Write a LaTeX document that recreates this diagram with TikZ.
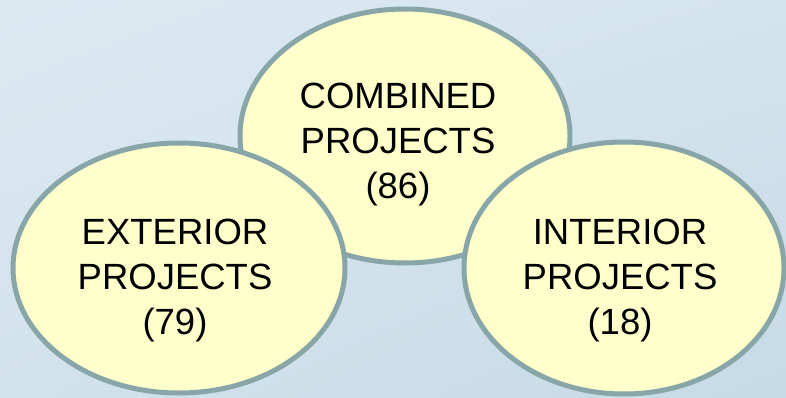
\documentclass[tikz,border=0pt]{standalone}
\usepackage{fontspec}
\setmainfont{Liberation Sans}
\usetikzlibrary{shapes.geometric,shadings}
\definecolor{bgul}{HTML}{DCE9F1}
\definecolor{bgur}{HTML}{D4E4EE}
\definecolor{bgll}{HTML}{D2E2EC}
\definecolor{bglr}{HTML}{C6DAE7}
\definecolor{bubblefill}{HTML}{FFFFCC}
\definecolor{bubbleline}{HTML}{88A5A8}
\tikzset{
  bubble/.style={ellipse, draw=bubbleline, line width=5pt, fill=bubblefill, inner sep=0pt},
  bubbletext/.style={align=center, font=\fontsize{36.5}{45}\selectfont, text=black}
}
\begin{document}
\begin{tikzpicture}[x=1pt,y=1pt]
\useasboundingbox (0,0) rectangle (786,397);
\shade[upper left=bgul, upper right=bgur, lower left=bgll, lower right=bglr] (0,0) rectangle (786,397);
\node[bubble, minimum width=330pt, minimum height=254pt] (comb) at (405,261) {};
\node[bubble, minimum width=332pt, minimum height=250pt] (ext) at (179,129) {};
\node[bubble, minimum width=320pt, minimum height=252pt] (int) at (624,129) {};
\node[bubbletext] (combtext) at (398,252) {COMBINED\\PROJECTS\\(86)};
\node[bubbletext] (exttext) at (175,116) {EXTERIOR\\PROJECTS\\(79)};
\node[bubbletext] (inttext) at (620,116) {INTERIOR\\PROJECTS\\(18)};
\end{tikzpicture}
\end{document}
